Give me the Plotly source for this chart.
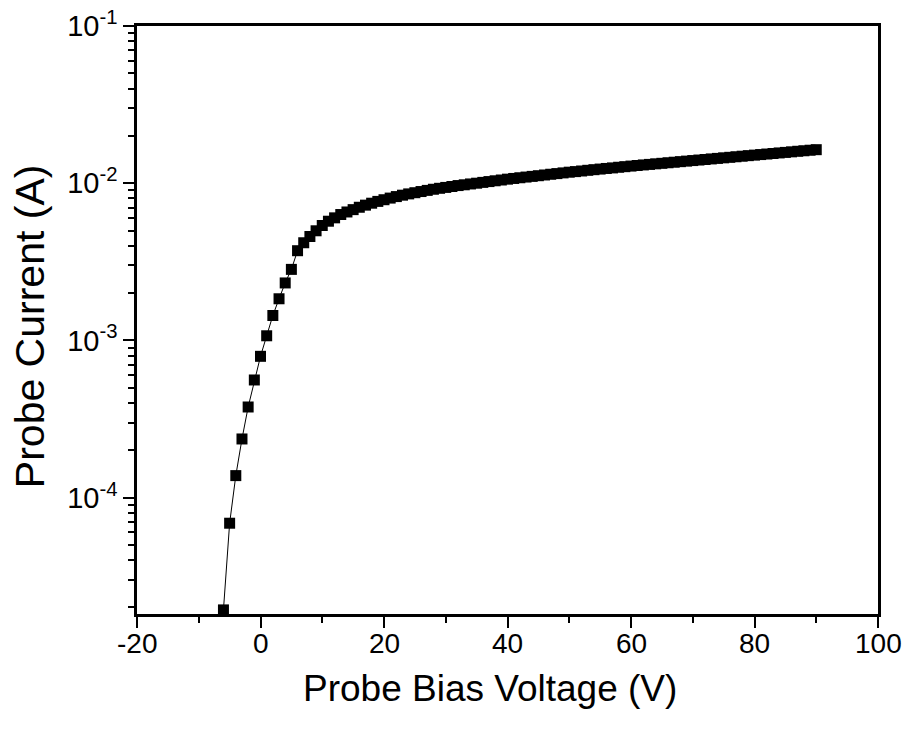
import plotly.graph_objects as go

voltage = list(range(-6, 91))
current = [
    1.93e-5, 6.87e-5, 1.38e-4, 2.36e-4, 3.77e-4, 5.60e-4, 7.92e-4, 1.07e-3,
    1.44e-3, 1.84e-3, 2.32e-3, 2.83e-3, 3.72e-3, 4.18e-3, 4.58e-3, 4.98e-3,
    5.38e-3, 5.73e-3, 6.02e-3, 6.32e-3, 6.56e-3, 6.79e-3, 7.03e-3, 7.25e-3,
    7.46e-3, 7.66e-3, 7.85e-3, 8.04e-3, 8.22e-3, 8.39e-3, 8.55e-3, 8.70e-3,
    8.85e-3, 9.00e-3, 9.15e-3, 9.28e-3, 9.40e-3, 9.53e-3, 9.66e-3, 9.77e-3,
    9.89e-3, 1.000e-2, 1.012e-2, 1.024e-2, 1.036e-2, 1.048e-2, 1.061e-2,
    1.072e-2, 1.083e-2, 1.094e-2, 1.105e-2, 1.116e-2, 1.128e-2, 1.140e-2,
    1.151e-2, 1.163e-2, 1.175e-2, 1.185e-2, 1.196e-2, 1.208e-2, 1.219e-2,
    1.230e-2, 1.241e-2, 1.251e-2, 1.263e-2, 1.274e-2, 1.285e-2, 1.296e-2,
    1.307e-2, 1.317e-2, 1.328e-2, 1.338e-2, 1.349e-2, 1.360e-2, 1.371e-2,
    1.382e-2, 1.393e-2, 1.404e-2, 1.415e-2, 1.427e-2, 1.438e-2, 1.450e-2,
    1.461e-2, 1.473e-2, 1.485e-2, 1.497e-2, 1.509e-2, 1.521e-2, 1.533e-2,
    1.545e-2, 1.558e-2, 1.570e-2, 1.583e-2, 1.596e-2, 1.608e-2, 1.621e-2,
    1.634e-2,
]

x_ticks = [-20, 0, 20, 40, 60, 80, 100]
x_tick_labels = ["-20", "0", "20", "40", "60", "80", "100"]
x_minor = [-10, 10, 30, 50, 70, 90]
y_ticks = [1e-4, 1e-3, 1e-2, 1e-1]
y_tick_labels = ["10<sup>-4</sup>", "10<sup>-3</sup>", "10<sup>-2</sup>", "10<sup>-1</sup>"]
y_minor = [m * 10.0 ** e for e in (-5, -4, -3, -2) for m in range(2, 10)]
x_title = "Probe Bias Voltage (V)"
y_title = "Probe Current (A)"

FONT = "Arial, Liberation Sans, sans-serif"

fig = go.Figure()
fig.add_trace(go.Scatter(
    x=voltage, y=current, mode="lines+markers",
    line=dict(color="black", width=1),
    marker=dict(symbol="square", size=11, color="black", line=dict(width=0)),
    showlegend=False,
))

annotations = [
    dict(text=lab, xref="x", yref="paper", x=val, y=-0.05,
         xanchor="center", yanchor="middle", showarrow=False,
         font=dict(size=28, family=FONT, color="black"))
    for val, lab in zip(x_ticks, x_tick_labels)
]
annotations += [
    dict(text=x_title, xref="paper", yref="paper", x=0.4764, y=-0.1259,
         xanchor="center", yanchor="middle", showarrow=False,
         font=dict(size=37, family=FONT, color="black")),
    dict(text=y_title, xref="paper", yref="paper", x=-0.144, y=0.49,
         xanchor="center", yanchor="middle", textangle=-90, showarrow=False,
         font=dict(size=41, family=FONT, color="black")),
]

fig.update_layout(
    template="none",
    width=908, height=735,
    margin=dict(l=137, r=30, t=26, b=121, pad=0),
    paper_bgcolor="white", plot_bgcolor="white",
    font=dict(family=FONT, color="black"),
    xaxis=dict(
        automargin=False,
        range=[-20, 100], tickvals=x_ticks, showticklabels=False,
        ticks="outside", ticklen=11, tickwidth=2, tickcolor="black",
        showline=True, linewidth=2.5, linecolor="black", mirror=True,
        showgrid=False, zeroline=False,
        minor=dict(tickvals=x_minor, ticks="outside", ticklen=6, tickwidth=2,
                   tickcolor="black", showgrid=False),
    ),
    yaxis=dict(
        automargin=False,
        type="log", range=[-4.7405, -1], tickvals=y_ticks, ticktext=y_tick_labels,
        ticks="outside", ticklen=11, tickwidth=2, tickcolor="black",
        showline=True, linewidth=2.5, linecolor="black", mirror=True,
        showgrid=False, zeroline=False,
        tickfont=dict(size=29, family=FONT, color="black"),
        minor=dict(tickvals=y_minor, ticks="outside", ticklen=6, tickwidth=2,
                   tickcolor="black", showgrid=False),
    ),
    annotations=annotations,
)

fig.write_html("out.html")
